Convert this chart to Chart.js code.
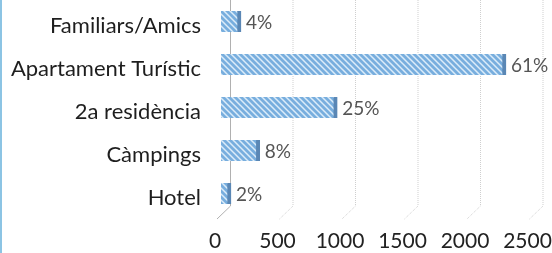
<!DOCTYPE html>
<html>
<head>
<meta charset="utf-8">
<script src="https://cdn.jsdelivr.net/npm/chart.js@4/dist/chart.umd.min.js"></script>
<style>
  body { margin: 0; background: #fff; }
  #wrap { position: relative; width: 552px; height: 253px; }
  #edge { position: absolute; left: 0; top: 0; width: 2px; height: 253px; background: #8cc4e4; }
</style>
</head>
<body>
<div id="wrap">
  <canvas id="myChart" width="552" height="253"></canvas>
  <div id="edge"></div>
</div>
<script>
"use strict";

const categories = ["Familiars/Amics", "Apartament Turístic", "2a residència", "Càmpings", "Hotel"];
const values = [160, 2280, 930, 310, 80];
const percentLabels = ["4%", "61%", "25%", "8%", "2%"];
const xTicks = [0, 500, 1000, 1500, 2000, 2500];

function makeHatch() {
  let c = document.createElement("canvas");
  c.width = 6;
  c.height = 6;
  let g = c.getContext("2d");
  g.fillStyle = "#dcecf9";
  g.fillRect(0, 0, 6, 6);
  g.strokeStyle = "#78aede";
  g.lineWidth = 2.8;
  g.beginPath();
  g.moveTo(-1, -1);
  g.lineTo(7, 7);
  g.moveTo(-7, -1);
  g.lineTo(1, 7);
  g.moveTo(5, -1);
  g.lineTo(13, 7);
  g.stroke();
  return g.createPattern(c, "repeat");
}

// dotted 3d-ish gridlines behind the bars
const gridPlugin = {
  id: "grid3d",
  beforeDatasetsDraw(chart) {
    const ctx = chart.ctx;
    const xs = chart.scales.x;
    const area = chart.chartArea;
    ctx.save();
    for (let v of xTicks) {
      let px = xs.getPixelForValue(v);
      ctx.strokeStyle = v === 0 ? "#b0b0b0" : "#cfcfcf";
      ctx.lineWidth = 1;
      ctx.setLineDash(v === 0 ? [] : [1, 1]);
      ctx.beginPath();
      ctx.moveTo(px + 9.5, area.top);
      ctx.lineTo(px + 9.5, area.bottom - 9);
      ctx.lineTo(px - 4, area.bottom + 4);
      ctx.stroke();
    }
    ctx.restore();
  }
};

const labelPlugin = {
  id: "pctLabels",
  afterDatasetsDraw(chart) {
    const ctx = chart.ctx;
    const meta = chart.getDatasetMeta(0);
    ctx.save();
    ctx.font = "19px Lato";
    ctx.fillStyle = "#555";
    ctx.textBaseline = "middle";
    ctx.textAlign = "left";
    meta.data.forEach(function (bar, i) {
      ctx.fillText(percentLabels[i], bar.x + 5, bar.y + 1);
    });
    ctx.restore();
  }
};

const ctx = document.getElementById("myChart").getContext("2d");
const myChart = new Chart(ctx, {
  type: "bar",
  data: {
    labels: categories,
    datasets: [
      {
        data: values,
        backgroundColor: makeHatch(),
        borderColor: "#5a87b5",
        borderWidth: { right: 4, left: 0, top: 0, bottom: 0 },
        borderSkipped: false,
        barThickness: 21,
      },
    ],
  },
  options: {
    indexAxis: "y",
    responsive: false,
    animation: false,
    layout: { padding: { top: 0, right: 18.5, left: 0, bottom: 0 } },
    plugins: { legend: { display: false }, tooltip: { enabled: false } },
    scales: {
      x: {
        min: 0,
        max: 2500,
        afterBuildTicks(scale) {
          scale.ticks = xTicks.map(function (v) { return { value: v }; });
        },
        afterFit(scale) {
          scale.height = 38;
          scale.paddingLeft = 0;
          scale.paddingRight = 0;
        },
        grid: { display: false, drawTicks: false },
        border: { display: false },
        ticks: {
          font: { family: "Lato", size: 21 },
          color: "#222",
          padding: 14,
          labelOffset: -6,
          maxRotation: 0,
          autoSkip: false,
          callback: function (v) { return String(v); },
        },
      },
      y: {
        afterFit(scale) {
          scale.width = 221;
          scale.paddingTop = 0;
          scale.paddingBottom = 0;
        },
        grid: { display: false, drawTicks: false },
        border: { display: false },
        ticks: {
          font: { family: "Lato", size: 22 },
          color: "#1e1e1e",
          padding: 20,
          labelOffset: 4,
        },
      },
    },
  },
  plugins: [gridPlugin, labelPlugin],
});
</script>
</body>
</html>
